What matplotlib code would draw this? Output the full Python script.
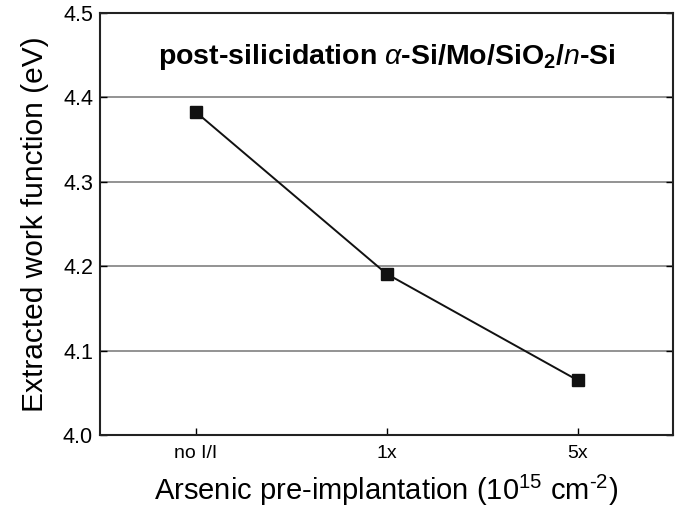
import matplotlib.pyplot as plt

plt.rcParams['font.family'] = ['Liberation Sans', 'DejaVu Sans']
plt.rcParams['mathtext.fontset'] = 'custom'
plt.rcParams['mathtext.rm'] = 'Liberation Sans'
plt.rcParams['mathtext.it'] = 'Liberation Sans:italic'
plt.rcParams['mathtext.bf'] = 'Liberation Sans:bold'
plt.rcParams['axes.unicode_minus'] = False

labels = ['no I/I', '1x', '5x']
work_function = [4.383, 4.191, 4.065]

fig = plt.figure(figsize=(6.79, 5.13), dpi=100)
ax = fig.add_axes([0.1473, 0.152, 0.8439, 0.8227])

x = range(len(labels))
ax.plot(x, work_function, '-', color='#111111', lw=1.4, zorder=3)
ax.plot(x, work_function, 's', color='#111111', ms=8.5, zorder=4)

ax.set_xlim(-0.5, 2.5)
ax.set_ylim(4.0, 4.5)
ax.set_xticks(list(x))
ax.set_xticklabels(labels, fontsize=14)
ax.set_yticks([4.0, 4.1, 4.2, 4.3, 4.4, 4.5])
ax.tick_params(axis='y', labelsize=15.5, direction='in', length=5, right=True, width=1, pad=5)
ax.tick_params(axis='x', direction='in', length=5, pad=7, width=1)
for yv in [4.1, 4.2, 4.3, 4.4]:
    ax.axhline(yv, color='#808080', lw=1.2, zorder=1)
for s in ax.spines.values():
    s.set_linewidth(1.5)
    s.set_color('#222222')

ax.set_ylabel('Extracted work function (eV)', fontsize=21.5, labelpad=10)
ax.set_xlabel(r'Arsenic pre-implantation (10$^{15}$ cm$^{\text{-2}}$)', fontsize=21, labelpad=8)

ax.text(0.5, 0.895, r'post-silicidation $\mathit{\alpha}$-Si/Mo/SiO$_\mathbf{2}$/$\mathbf{\mathit{n}}$-Si',
        transform=ax.transAxes, ha='center', va='center', fontsize=20.5, fontweight='bold')

plt.savefig('out.png', dpi=100)
